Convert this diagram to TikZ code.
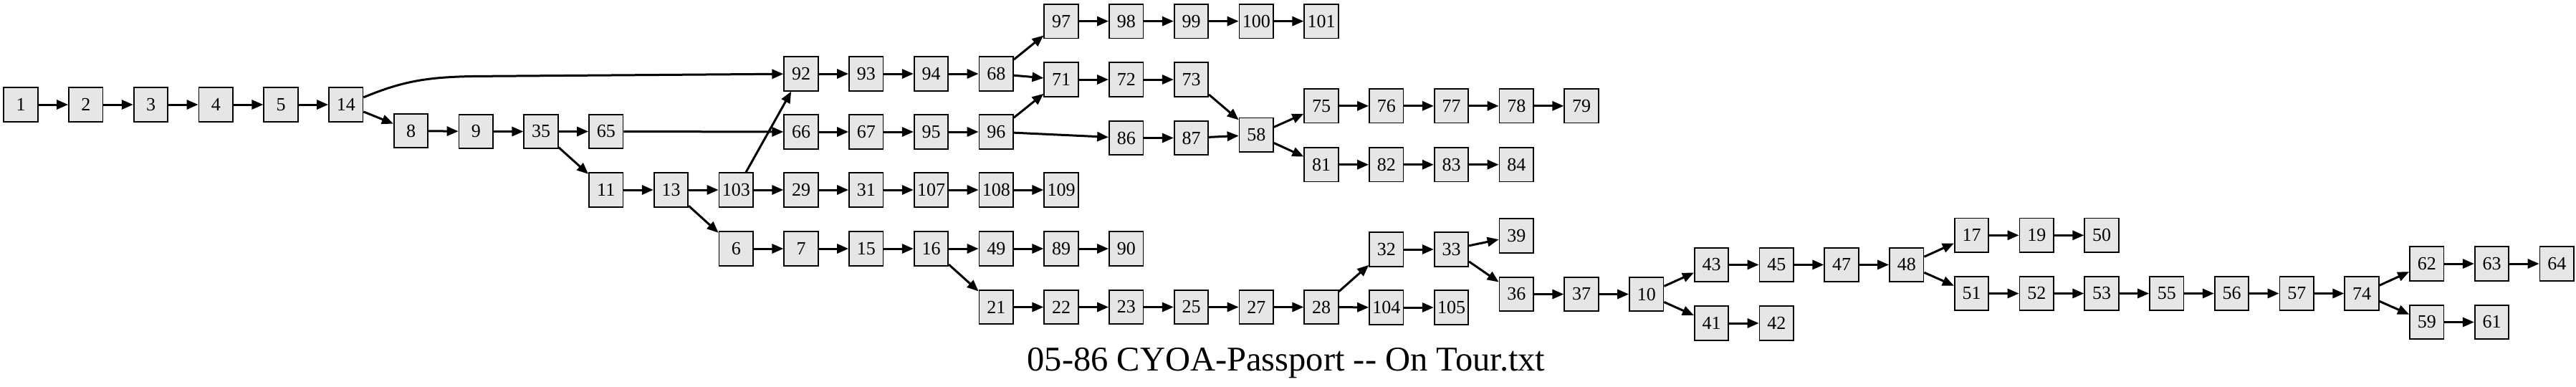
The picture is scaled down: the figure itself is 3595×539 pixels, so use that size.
\documentclass[tikz,border=0pt]{standalone}
\usepackage{fontspec}
\setmainfont{Liberation Serif}
\usetikzlibrary{arrows.meta}
\definecolor{nodefill}{RGB}{230,230,230}
\tikzset{
  nd/.style={draw=black, line width=1.7pt, fill=nodefill, rectangle,
    minimum width=47.5pt, minimum height=47.5pt, inner sep=0pt,
    font=\fontsize{26}{26}\selectfont},
  edge/.style={line width=3pt, -{Triangle[length=16pt,width=13pt]}},
}
\begin{document}
\begin{tikzpicture}[x=1pt,y=1pt]
\useasboundingbox (0,0) rectangle (3595,-539);
% column 0-5
\node[nd] (n1) at (29,-146) {1};
\node[nd] (n2) at (119.75,-146) {2};
\node[nd] (n3) at (210.5,-146) {3};
\node[nd] (n4) at (301.25,-146) {4};
\node[nd] (n5) at (392,-146) {5};
\node[nd] (n14) at (482.75,-146) {14};
\node[nd] (n8) at (573.5,-182.5) {8};
\node[nd] (n9) at (664.25,-183.5) {9};
\node[nd] (n35) at (755,-183.5) {35};
\node[nd] (n65) at (845.75,-183.5) {65};
\node[nd] (n11) at (845.75,-265) {11};
\node[nd] (n13) at (936.5,-265) {13};
\node[nd] (n103) at (1027.25,-265) {103};
\node[nd] (n6) at (1027.25,-347) {6};
% col 12
\node[nd] (n92) at (1118,-103) {92};
\node[nd] (n66) at (1118,-184) {66};
\node[nd] (n29) at (1118,-265) {29};
\node[nd] (n7) at (1118,-347) {7};
% col 13
\node[nd] (n93) at (1208.75,-103) {93};
\node[nd] (n67) at (1208.75,-184) {67};
\node[nd] (n31) at (1208.75,-265) {31};
\node[nd] (n15) at (1208.75,-347) {15};
% col 14
\node[nd] (n94) at (1299.5,-103) {94};
\node[nd] (n95) at (1299.5,-184) {95};
\node[nd] (n107) at (1299.5,-265) {107};
\node[nd] (n16) at (1299.5,-347) {16};
% col 15
\node[nd] (n68) at (1390.25,-103) {68};
\node[nd] (n96) at (1390.25,-184) {96};
\node[nd] (n108) at (1390.25,-265) {108};
\node[nd] (n49) at (1390.25,-347) {49};
\node[nd] (n21) at (1390.25,-428.5) {21};
% col 16
\node[nd] (n97) at (1481,-29.6) {97};
\node[nd] (n71) at (1481,-111) {71};
\node[nd] (n109) at (1481,-265) {109};
\node[nd] (n89) at (1481,-347) {89};
\node[nd] (n22) at (1481,-428.5) {22};
% col 17
\node[nd] (n98) at (1571.75,-29.6) {98};
\node[nd] (n72) at (1571.75,-111) {72};
\node[nd] (n86) at (1571.75,-192.5) {86};
\node[nd] (n90) at (1571.75,-347) {90};
\node[nd] (n23) at (1571.75,-428.5) {23};
% col 18
\node[nd] (n99) at (1662.5,-29.6) {99};
\node[nd] (n73) at (1662.5,-111) {73};
\node[nd] (n87) at (1662.5,-192.5) {87};
\node[nd] (n25) at (1662.5,-428.5) {25};
% col 19
\node[nd] (n100) at (1753.25,-29.6) {100};
\node[nd] (n58) at (1753.25,-188.3) {58};
\node[nd] (n27) at (1753.25,-428.5) {27};
% col 20
\node[nd] (n101) at (1844,-29.6) {101};
\node[nd] (n75) at (1844,-147.8) {75};
\node[nd] (n81) at (1844,-229.7) {81};
\node[nd] (n28) at (1844,-428.5) {28};
% col 21
\node[nd] (n76) at (1934.75,-147.8) {76};
\node[nd] (n82) at (1934.75,-229.7) {82};
\node[nd] (n32) at (1934.75,-348) {32};
\node[nd] (n104) at (1934.75,-429) {104};
% col 22
\node[nd] (n77) at (2025.5,-147.8) {77};
\node[nd] (n83) at (2025.5,-229.7) {83};
\node[nd] (n33) at (2025.5,-348) {33};
\node[nd] (n105) at (2025.5,-429) {105};
% col 23
\node[nd] (n78) at (2116.25,-147.8) {78};
\node[nd] (n84) at (2116.25,-229.7) {84};
\node[nd] (n39) at (2116.25,-329) {39};
\node[nd] (n36) at (2116.25,-410.5) {36};
% col 24
\node[nd] (n79) at (2207,-147.8) {79};
\node[nd] (n37) at (2207,-410.5) {37};
% col 25
\node[nd] (n10) at (2297.75,-410.5) {10};
% col 26-29
\node[nd] (n43) at (2388.5,-369.4) {43};
\node[nd] (n41) at (2388.5,-451) {41};
\node[nd] (n45) at (2479.25,-369.4) {45};
\node[nd] (n42) at (2479.25,-451) {42};
\node[nd] (n47) at (2570,-369.4) {47};
\node[nd] (n48) at (2660.75,-369.4) {48};
% col 30-39
\node[nd] (n17) at (2751.5,-328.3) {17};
\node[nd] (n51) at (2751.5,-409.5) {51};
\node[nd] (n19) at (2842.25,-328.3) {19};
\node[nd] (n52) at (2842.25,-409.5) {52};
\node[nd] (n50) at (2933,-328.3) {50};
\node[nd] (n53) at (2933,-409.5) {53};
\node[nd] (n55) at (3023.75,-409.5) {55};
\node[nd] (n56) at (3114.5,-409.5) {56};
\node[nd] (n57) at (3205.25,-409.5) {57};
\node[nd] (n74) at (3296,-409.5) {74};
\node[nd] (n62) at (3386.75,-368) {62};
\node[nd] (n59) at (3386.75,-449.5) {59};
\node[nd] (n63) at (3477.5,-368) {63};
\node[nd] (n61) at (3477.5,-449.5) {61};
\node[nd] (n64) at (3568.25,-368) {64};
% edges
\foreach \a/\b in {1/2,2/3,3/4,4/5,5/14,14/8,8/9,9/35,35/65,35/11,65/66,11/13,13/103,13/6,
  103/92,103/29,92/93,93/94,94/68,68/97,68/71,66/67,67/95,95/96,96/71,96/86,
  97/98,98/99,99/100,100/101,71/72,72/73,73/58,86/87,87/58,58/75,58/81,
  75/76,76/77,77/78,78/79,81/82,82/83,83/84,29/31,31/107,107/108,108/109,
  6/7,7/15,15/16,16/49,49/89,89/90,16/21,21/22,22/23,23/25,25/27,27/28,
  28/32,28/104,104/105,32/33,33/39,33/36,36/37,37/10,10/43,10/41,41/42,
  43/45,45/47,47/48,48/17,48/51,17/19,19/50,51/52,52/53,53/55,55/56,56/57,57/74,
  74/62,74/59,62/63,63/64,59/61}
  \draw[edge] (n\a) -- (n\b);
\coordinate (c14) at (680,-106.3);
\draw[edge] (n14) .. controls (565,-112) and (600,-106.5) .. (c14) -- (n92);
% title
\node[anchor=base, font=\fontsize{48.5}{52}\selectfont, inner sep=0pt] (title) at (1795,-517) {05-86 CYOA-Passport -{}- On Tour.txt};
\end{tikzpicture}
\end{document}
